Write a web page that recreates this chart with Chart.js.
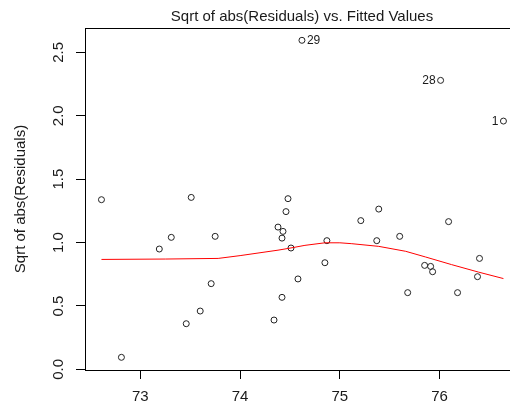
<!DOCTYPE html>
<html>
<head>
<meta charset="utf-8">
<script src="https://cdn.jsdelivr.net/npm/chart.js@4/dist/chart.umd.min.js"></script>
<style>
  html, body { margin: 0; padding: 0; background: #fff; overflow: hidden; }
  #wrap { width: 530px; height: 405px; }
</style>
</head>
<body>
<div id="wrap"><canvas id="residChart" width="530" height="405"></canvas></div>
<script>
// fitted values and sqrt(|residuals|)
const fittedX = [72.61, 73.51, 74.48, 74.46, 74.38, 74.43, 74.42, 73.31, 73.75, 73.19,
                 74.51, 74.58, 73.71, 74.42, 73.60, 73.46, 74.34, 72.81, 75.39, 75.21,
                 76.09, 74.87, 75.37, 75.60, 74.85, 75.85, 75.91, 75.93, 76.40, 76.38,
                 75.68, 76.18, 74.62, 76.01, 76.64];
const sqrtAbsRes = [1.338, 1.356, 1.346, 1.244, 1.122, 1.088, 1.035, 1.041, 1.049, 0.949,
                    0.957, 0.713, 0.676, 0.568, 0.460, 0.360, 0.389, 0.095, 1.264, 1.173,
                    1.165, 1.015, 1.015, 1.049, 0.841, 0.820, 0.812, 0.770, 0.875, 0.731,
                    0.605, 0.605, 2.595, 2.279, 1.958];

// observations flagged with their row number
const labeledIndex = [32, 33, 34];
const labeledNames = ['29', '28', '1'];

// lowess smoother
const smoothX = [72.61, 73.25, 73.78, 74.00, 74.38, 74.50, 74.65, 74.85, 75.00, 75.12,
                 75.39, 75.66, 75.86, 76.12, 76.39, 76.64];
const smoothY = [0.867, 0.870, 0.875, 0.897, 0.940, 0.956, 0.978, 0.998, 0.998, 0.991,
                 0.970, 0.931, 0.886, 0.826, 0.767, 0.716];

const xTicks = [73, 74, 75, 76];
const yTicks = [0.0, 0.5, 1.0, 1.5, 2.0, 2.5];

const chartTitle = 'Sqrt of abs(Residuals) vs. Fitted Values';
const yTitle = 'Sqrt of abs(Residuals)';

const textColor = '#1a1a1a';

const rTextPlugin = {
    id: 'rText',
    afterDraw(chart) {
        const ctx = chart.ctx;
        const area = chart.chartArea;
        const xs = chart.scales.x;
        const ys = chart.scales.y;
        ctx.save();

        // box around plot region
        ctx.strokeStyle = '#000';
        ctx.lineWidth = 1;
        ctx.strokeRect(Math.round(area.left) + 0.5, Math.round(area.top) + 0.5,
                       Math.round(area.right - area.left), Math.round(area.bottom - area.top));

        ctx.fillStyle = textColor;

        // title
        ctx.font = '15px "Liberation Sans", Arial, sans-serif';
        ctx.textAlign = 'center';
        ctx.textBaseline = 'alphabetic';
        ctx.fillText(chartTitle, (area.left + area.right) / 2, 21);

        // x tick labels
        xTicks.forEach(v => {
            ctx.fillText(String(v), xs.getPixelForValue(v), 401);
        });

        // y tick labels, rotated like R
        yTicks.forEach(v => {
            ctx.save();
            ctx.translate(63, ys.getPixelForValue(v));
            ctx.rotate(-Math.PI / 2);
            ctx.fillText(v.toFixed(1), 0, 0);
            ctx.restore();
        });

        // y axis title
        ctx.save();
        ctx.translate(25, (area.top + area.bottom) / 2);
        ctx.rotate(-Math.PI / 2);
        ctx.fillText(yTitle, 0, 0);
        ctx.restore();

        // point labels
        ctx.font = '12px "Liberation Sans", Arial, sans-serif';
        ctx.textBaseline = 'middle';
        labeledIndex.forEach((idx, i) => {
            const px = xs.getPixelForValue(fittedX[idx]);
            const py = ys.getPixelForValue(sqrtAbsRes[idx]);
            if (i === 0) {
                ctx.textAlign = 'left';
                ctx.fillText(labeledNames[i], px + 5, py + 0.5);
            } else {
                ctx.textAlign = 'right';
                ctx.fillText(labeledNames[i], px - 5, py + 0.5);
            }
        });

        ctx.restore();
    }
};

const ctx = document.getElementById('residChart').getContext('2d');

new Chart(ctx, {
    type: 'scatter',
    data: {
        datasets: [
            {
                label: 'residuals',
                data: fittedX.map((x, i) => ({ x: x, y: sqrtAbsRes[i] })),
                pointStyle: 'circle',
                pointRadius: 3,
                pointBorderWidth: 1,
                pointBorderColor: '#222',
                pointBackgroundColor: 'rgba(0,0,0,0)',
                showLine: false,
                order: 2
            },
            {
                label: 'lowess',
                type: 'line',
                data: smoothX.map((x, i) => ({ x: x, y: smoothY[i] })),
                borderColor: '#ff0000',
                borderWidth: 1,
                pointRadius: 0,
                fill: false,
                tension: 0,
                order: 1
            }
        ]
    },
    options: {
        responsive: false,
        animation: false,
        devicePixelRatio: 1,
        layout: { padding: { top: 28, right: 11, left: 0, bottom: 0 } },
        plugins: {
            legend: { display: false },
            title: { display: false },
            tooltip: { enabled: false }
        },
        scales: {
            x: {
                type: 'linear',
                min: 72.445,
                max: 76.796,
                afterFit: s => { s.height = 35; },
                afterBuildTicks: s => { s.ticks = xTicks.map(v => ({ value: v })); },
                grid: { display: true, drawOnChartArea: false, drawTicks: true, tickLength: 9, color: '#000' },
                border: { display: false },
                ticks: { display: false }
            },
            y: {
                type: 'linear',
                min: -0.005,
                max: 2.692,
                afterFit: s => { s.width = 85; },
                afterBuildTicks: s => { s.ticks = yTicks.map(v => ({ value: v })); },
                grid: { display: true, drawOnChartArea: false, drawTicks: true, tickLength: 9, color: '#000' },
                border: { display: false },
                ticks: { display: false }
            }
        }
    },
    plugins: [rTextPlugin]
});
</script>
</body>
</html>
